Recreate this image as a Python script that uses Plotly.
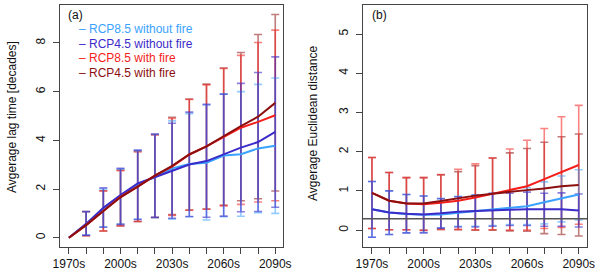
import plotly.graph_objects as go

decades = ["1970s", "1980s", "1990s", "2000s", "2010s", "2020s", "2030s",
           "2040s", "2050s", "2060s", "2070s", "2080s", "2090s"]
tick_labels = ["1970s", "", "", "2000s", "", "", "2030s", "", "", "2060s", "", "", "2090s"]

series_names = ["RCP8.5 without fire", "RCP4.5 without fire", "RCP8.5 with fire", "RCP4.5 with fire"]
series_colors = ["#3AA2FF", "#3B2BC9", "#F41E1A", "#8C0F0F"]
series_rgba = ["rgba(58,162,255,0.55)", "rgba(59,43,201,0.6)", "rgba(244,30,26,0.55)", "rgba(140,15,15,0.55)"]

# ---- Panel (a): average lag time [decades] ----
lag_mean_85_nofire = [0, 0.56, 1.20, 1.72, 2.20, 2.49, 2.85, 3.03, 3.08, 3.38, 3.43, 3.67, 3.78]
lag_mean_45_nofire = [0, 0.57, 1.23, 1.75, 2.23, 2.49, 2.73, 3.01, 3.15, 3.42, 3.70, 3.93, 4.35]
lag_mean_85_fire = [0, 0.52, 1.10, 1.68, 2.10, 2.55, 2.92, 3.42, 3.75, 4.15, 4.52, 4.76, 5.03]
lag_mean_45_fire = [0, 0.52, 1.10, 1.66, 2.10, 2.55, 2.95, 3.42, 3.75, 4.18, 4.59, 4.97, 5.54]

lag_up_85_nofire = [None, 1.07, 2.00, 2.83, 3.58, 4.24, 4.80, 5.10, 5.45, 5.90, 6.00, 6.30, 6.56]
lag_up_45_nofire = [None, 1.08, 2.05, 2.85, 3.60, 4.26, 4.70, 5.16, 5.48, 5.90, 6.34, 6.79, 7.43]
lag_up_85_fire = [None, 1.07, 1.92, 2.75, 3.52, 4.22, 4.90, 5.68, 6.28, 6.95, 7.49, 8.02, 8.53]
lag_up_45_fire = [None, 1.08, 1.93, 2.78, 3.55, 4.24, 4.95, 5.70, 6.31, 6.97, 7.61, 8.35, 9.17]

lag_lo_85_nofire = [None, 0.12, 0.45, 0.56, 0.77, 0.82, 0.76, 0.86, 0.73, 0.86, 0.88, 1.03, 1.00]
lag_lo_45_nofire = [None, 0.10, 0.43, 0.55, 0.75, 0.84, 0.80, 0.87, 0.84, 0.89, 1.07, 1.08, 1.25]
lag_lo_85_fire = [None, 0.08, 0.28, 0.50, 0.68, 0.83, 0.92, 1.13, 1.17, 1.32, 1.37, 1.47, 1.52]
lag_lo_45_fire = [None, 0.08, 0.28, 0.48, 0.66, 0.83, 0.95, 1.14, 1.18, 1.33, 1.52, 1.60, 1.92]

# ---- Panel (b): average Euclidean distance ----
euc_mean_85_nofire = [0.53, 0.45, 0.41, 0.39, 0.40, 0.44, 0.48, 0.52, 0.57, 0.61, 0.71, 0.81, 0.91]
euc_mean_45_nofire = [0.53, 0.45, 0.42, 0.40, 0.43, 0.47, 0.49, 0.51, 0.52, 0.53, 0.53, 0.53, 0.50]
euc_mean_85_fire = [0.95, 0.75, 0.68, 0.66, 0.70, 0.75, 0.83, 0.93, 1.03, 1.12, 1.30, 1.49, 1.66]
euc_mean_45_fire = [0.95, 0.75, 0.68, 0.68, 0.74, 0.81, 0.88, 0.93, 0.98, 1.02, 1.06, 1.12, 1.15]

euc_up_85_nofire = [1.24, 1.00, 0.91, 0.87, 0.81, 0.86, 0.90, 0.94, 0.99, 1.08, 1.23, 1.38, 1.54]
euc_up_45_nofire = [1.24, 1.00, 0.91, 0.87, 0.80, 0.85, 0.89, 0.94, 0.94, 0.97, 0.94, 0.95, 0.92]
euc_up_85_fire = [1.85, 1.47, 1.34, 1.34, 1.42, 1.55, 1.69, 1.84, 2.07, 2.29, 2.59, 2.89, 3.18]
euc_up_45_fire = [1.85, 1.47, 1.34, 1.34, 1.41, 1.49, 1.64, 1.84, 1.97, 2.08, 2.24, 2.38, 2.45]

euc_lo_85_nofire = [-0.18, -0.11, -0.07, -0.06, 0.06, 0.10, 0.10, 0.12, 0.14, 0.14, 0.16, 0.21, 0.26]
euc_lo_45_nofire = [-0.18, -0.11, -0.07, -0.07, 0.05, 0.08, 0.08, 0.10, 0.12, 0.12, 0.10, 0.10, 0.08]
euc_lo_85_fire = [0.04, 0.01, 0.01, -0.01, 0.02, 0.02, 0.01, 0.01, 0.00, 0.00, 0.04, 0.07, 0.15]
euc_lo_45_fire = [0.04, 0.01, 0.01, 0.00, 0.02, 0.01, 0.00, 0.00, -0.02, -0.03, -0.09, -0.11, -0.15]

euc_reference_level = 0.29

x_idx = list(range(len(decades)))
FONT = "Liberation Sans, Arial, Helvetica, sans-serif"

fig = go.Figure()

def add_panel(means, ups, los, xa, ya):
    # error bars first (draw order: dark red, red, light blue, dark blue)
    for k in [3, 2, 0, 1]:
        m, u, l = means[k], ups[k], los[k]
        yy, ep, em = [], [], []
        for mi, ui, li in zip(m, u, l):
            if ui is None:
                yy.append(None); ep.append(0); em.append(0)
            else:
                yy.append(mi); ep.append(ui - mi); em.append(mi - li)
        fig.add_trace(go.Scatter(
            x=x_idx, y=yy, mode="markers", xaxis=xa, yaxis=ya,
            marker=dict(size=1, color="rgba(0,0,0,0)"),
            error_y=dict(type="data", symmetric=False, array=ep, arrayminus=em,
                         color=series_rgba[k], thickness=1.6, width=4),
            showlegend=False, hoverinfo="skip"))
    for k in [0, 1, 2, 3]:
        fig.add_trace(go.Scatter(
            x=x_idx, y=means[k], mode="lines", xaxis=xa, yaxis=ya,
            line=dict(color=series_colors[k], width=2),
            name=series_names[k], showlegend=False))

add_panel([lag_mean_85_nofire, lag_mean_45_nofire, lag_mean_85_fire, lag_mean_45_fire],
          [lag_up_85_nofire, lag_up_45_nofire, lag_up_85_fire, lag_up_45_fire],
          [lag_lo_85_nofire, lag_lo_45_nofire, lag_lo_85_fire, lag_lo_45_fire], "x", "y")
add_panel([euc_mean_85_nofire, euc_mean_45_nofire, euc_mean_85_fire, euc_mean_45_fire],
          [euc_up_85_nofire, euc_up_45_nofire, euc_up_85_fire, euc_up_45_fire],
          [euc_lo_85_nofire, euc_lo_45_nofire, euc_lo_85_fire, euc_lo_45_fire], "x2", "y2")

W, H = 600, 279
ydom = [(H - 247) / H, (H - 5) / H]

common_x = dict(tickmode="array", tickvals=x_idx, ticktext=tick_labels, ticks="outside",
                ticklen=6, tickcolor="#444", showline=True, mirror=True, linecolor="#444",
                linewidth=1, showgrid=False, zeroline=False,
                tickfont=dict(family=FONT, size=12, color="#111"), automargin=False)
common_y = dict(ticks="outside", ticklen=6, tickcolor="#444", showline=True, mirror=True,
                linecolor="#444", linewidth=1, showgrid=False, zeroline=False, tickangle=-90,
                ticklabelstandoff=3,
                tickfont=dict(family=FONT, size=12, color="#111"), automargin=False)

fig.update_layout(
    width=W, height=H, margin=dict(l=0, r=0, t=0, b=0),
    paper_bgcolor="white", plot_bgcolor="white", showlegend=False,
    xaxis=dict(domain=[60 / W, 283 / W], range=[-0.52, 12.45], anchor="y", **common_x),
    yaxis=dict(domain=ydom, range=[-0.38, 9.56], anchor="x", tickvals=[0, 2, 4, 6, 8], **common_y),
    xaxis2=dict(domain=[363 / W, 587 / W], range=[-0.52, 12.48], anchor="y2", **common_x),
    yaxis2=dict(domain=ydom, range=[-0.43, 5.74], anchor="x2", tickvals=[0, 1, 2, 3, 4, 5], **common_y),
)

fig.add_shape(type="line", xref="x2 domain", yref="y2", x0=0, x1=1,
              y0=euc_reference_level, y1=euc_reference_level,
              line=dict(color="#555", width=1.5))

def px(x, y):
    return x / W, 1 - y / H

anns = []
ax, ay = px(66, 15)
anns.append(dict(x=ax, y=ay, text="(a)", xanchor="left", yanchor="middle", showarrow=False,
                 font=dict(family=FONT, size=12, color="#111")))
bx, by = px(370, 15)
anns.append(dict(x=bx, y=by, text="(b)", xanchor="left", yanchor="middle", showarrow=False,
                 font=dict(family=FONT, size=12, color="#111")))
for i, (nm, col) in enumerate(zip(series_names, series_colors)):
    lx, ly = px(77, 29 + 14.6 * i)
    anns.append(dict(x=lx, y=ly, text="\u2013 " + nm, xanchor="left", yanchor="middle",
                     showarrow=False, font=dict(family=FONT, size=12, color=col)))
tx, ty = px(12, 117)
anns.append(dict(x=tx, y=ty, text="Avgerage lag time [decades]", textangle=-90, showarrow=False,
                 xanchor="center", yanchor="middle", font=dict(family=FONT, size=12, color="#111")))
tx, ty = px(313, 123)
anns.append(dict(x=tx, y=ty, text="Avgerage Euclidean distance", textangle=-90, showarrow=False,
                 xanchor="center", yanchor="middle", font=dict(family=FONT, size=12, color="#111")))
for a in anns:
    a["xref"] = "paper"; a["yref"] = "paper"
fig.update_layout(annotations=anns)

fig.write_html("out.html", config={"displayModeBar": False},
               post_script="document.body.style.margin='0';document.body.style.overflow='hidden';")
